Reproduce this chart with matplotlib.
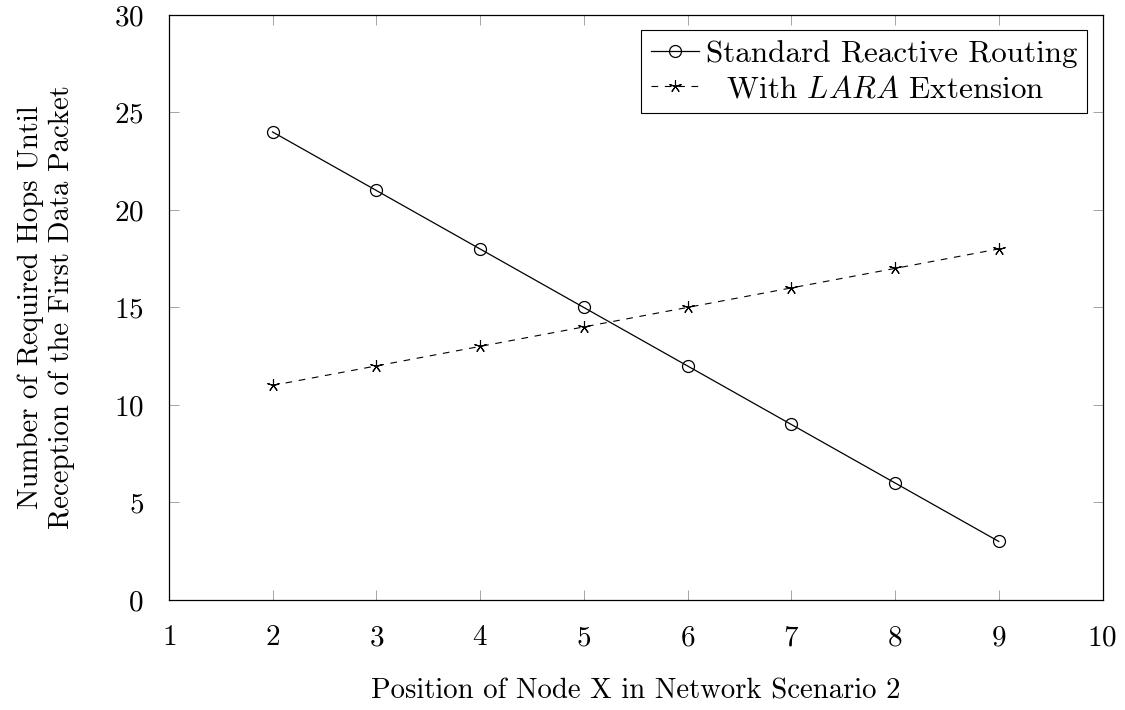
import matplotlib
matplotlib.use("Agg")
import matplotlib.pyplot as plt

plt.rcParams["font.family"] = "serif"
plt.rcParams["font.serif"] = ["cmr10", "DejaVu Serif"]
plt.rcParams["mathtext.fontset"] = "cm"
plt.rcParams["axes.formatter.use_mathtext"] = True

positions = [2, 3, 4, 5, 6, 7, 8, 9]
standard_hops = [24, 21, 18, 15, 12, 9, 6, 3]
lara_hops = [11, 12, 13, 14, 15, 16, 17, 18]

x_ticks = [1, 2, 3, 4, 5, 6, 7, 8, 9, 10]
y_ticks = [0, 5, 10, 15, 20, 25, 30]

fig = plt.figure(figsize=(11.25, 7.1), dpi=100)
ax = fig.add_axes([0.150, 0.155, 0.830, 0.824])

ax.plot(positions, standard_hops, color="black", linewidth=0.9,
        marker="o", markersize=8.6, markerfacecolor="none",
        markeredgewidth=0.9, label="Standard Reactive Routing")
ax.plot(positions, lara_hops, color="black", linewidth=0.8,
        linestyle=(0, (6, 6)), marker=(5, 2, 0), markersize=9,
        markeredgewidth=0.8, label="  With $LARA$ Extension")

ax.set_xlim(1, 10)
ax.set_ylim(0, 30)
ax.set_xticks(x_ticks)
ax.set_yticks(y_ticks)

ax.tick_params(direction="in", length=7, width=0.5, color="#808080",
               top=True, right=True, labelsize=21, pad=18)
for spine in ax.spines.values():
    spine.set_linewidth(0.9)

ax.set_xlabel("Position of Node X in Network Scenario 2", fontsize=20.7,
              labelpad=19)
ax.set_ylabel("Number of Required Hops Until\nReception of the First Data Packet",
              fontsize=20.7, labelpad=28)

leg = ax.legend(loc="upper right", fontsize=22.4, frameon=True, fancybox=False,
                edgecolor="black", framealpha=1, borderpad=0.3,
                handlelength=1.55, handletextpad=0.23, labelspacing=0.25,
                borderaxespad=0.5)
leg.get_frame().set_linewidth(0.8)

fig.savefig("out.png", dpi=100)
